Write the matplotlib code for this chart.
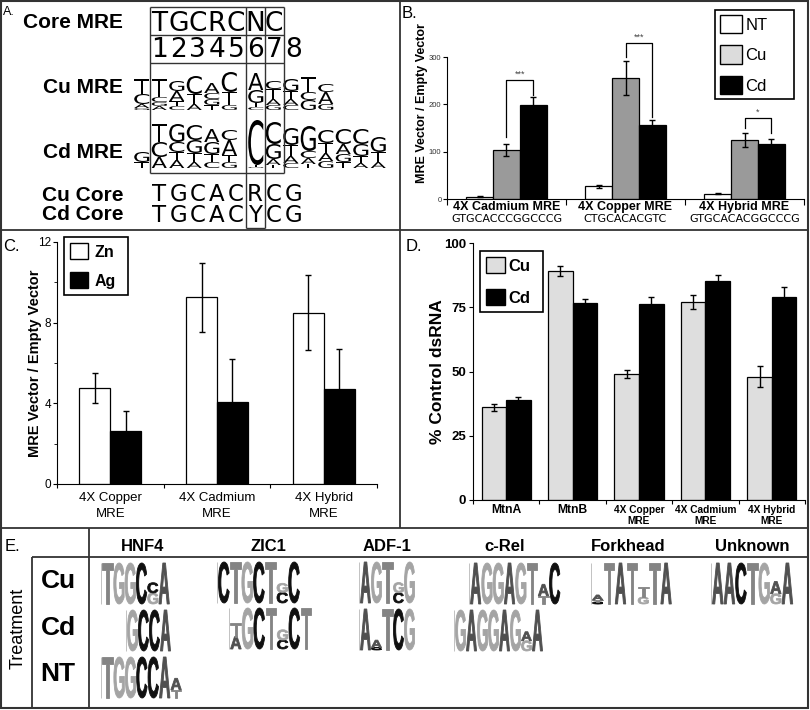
import matplotlib
matplotlib.use("Agg")
import matplotlib.pyplot as plt
from matplotlib.patches import Patch, PathPatch, Rectangle
from matplotlib.textpath import TextPath
from matplotlib.font_manager import FontProperties
from matplotlib.transforms import Affine2D
import numpy as np

plt.rcParams['font.family'] = ['Liberation Sans', 'DejaVu Sans']

# ---------------- data ----------------
# A: MRE consensus and logos (letter, height in px), listed top -> bottom
core_mre = "TGCRCNC"
core_pos = "12345678"
cu_core = "TGCACRCG"
cd_core = "TGCACYCG"
cu_mre_logo = [
    [('T', 15), ('C', 10), ('A', 4), ('G', 2)],
    [('T', 18), ('C', 5), ('G', 4), ('A', 4)],
    [('G', 10), ('A', 10), ('T', 5), ('C', 4)],
    [('C', 18), ('T', 10), ('A', 6)],
    [('A', 10), ('C', 6), ('G', 6), ('T', 5)],
    [('C', 20), ('T', 13), ('G', 5)],
    [('A', 17), ('G', 13), ('T', 4), ('C', 3)],
    [('C', 8), ('T', 10), ('A', 6), ('G', 5)],
    [('G', 12), ('T', 8), ('A', 6), ('C', 5)],
    [('T', 15), ('C', 8), ('G', 10)],
    [('C', 8), ('A', 12), ('G', 6)],
]
cd_mre_logo = [
    [('G', 10), ('T', 6)],
    [('T', 18), ('C', 15), ('A', 11)],
    [('G', 18), ('C', 10), ('T', 8), ('A', 8)],
    [('C', 15), ('G', 13), ('T', 9), ('A', 6)],
    [('A', 13), ('G', 12), ('T', 8), ('C', 6)],
    [('C', 10), ('A', 15), ('T', 7), ('G', 6)],
    [('C', 45), ('T', 2), ('G', 1)],
    [('C', 22), ('G', 15), ('A', 6), ('T', 3)],
    [('G', 17), ('T', 11), ('A', 7), ('C', 5)],
    [('G', 25), ('C', 7), ('A', 6), ('T', 4)],
    [('C', 13), ('T', 10), ('A', 8), ('G', 7)],
    [('C', 15), ('A', 10), ('G', 8), ('T', 6)],
    [('C', 15), ('G', 12), ('T', 7), ('A', 5)],
    [('G', 15), ('T', 10), ('A', 6)],
]

# B: reporter activity
b_groups = ['4X Cadmium MRE', '4X Copper MRE', '4X Hybrid MRE']
b_seqs = ['GTGCACCCGGCCCG', 'CTGCACACGTC', 'GTGCACACGGCCCG']
b_nt = [5, 27, 11]
b_nt_err = [1, 3, 1]
b_cu = [103, 256, 124]
b_cu_err = [13, 36, 15]
b_cd = [198, 156, 117]
b_cd_err = [17, 10, 10]
b_sig = ['***', '***', '*']
b_brk_top = [252, 330, 172]
b_brk_cu = [131, 300, 149]
b_brk_cd = [219, 173, 139]

# C: Zn / Ag
c_groups = ['4X Copper\nMRE', '4X Cadmium\nMRE', '4X Hybrid\nMRE']
c_zn = [4.75, 9.25, 8.5]
c_zn_err = [0.75, 1.7, 1.85]
c_ag = [2.65, 4.05, 4.7]
c_ag_err = [0.95, 2.15, 2.0]

# D: RNAi
d_groups = ['MtnA', 'MtnB', '4X Copper\nMRE', '4X Cadmium\nMRE', '4X Hybrid\nMRE']
d_cu = [36, 89, 49, 77, 48]
d_cu_err = [1.2, 2.0, 1.7, 2.8, 4.0]
d_cd = [38.8, 76.8, 76.3, 85.1, 78.8]
d_cd_err = [1.4, 1.3, 2.5, 2.6, 4.1]

# E: motif logos (letter, fraction of full height), top -> bottom
e_factors = ['HNF4', 'ZIC1', 'ADF-1', 'c-Rel', 'Forkhead', 'Unknown']
e_treat = ['Cu', 'Cd', 'NT']
hnf4_cu = [[('T', 1)], [('G', 1)], [('G', 1)], [('C', 1)], [('C', .25), ('G', .27)], [('A', 1)]]
hnf4_cd = [[('G', 1)], [('C', 1)], [('C', 1)], [('A', 1)]]
hnf4_nt = [[('T', 1)], [('G', 1)], [('G', 1)], [('C', 1)], [('C', 1)], [('A', 1)], [('A', .28), ('T', .2)]]
zic1_cu = [[('C', 1)], [('T', 1)], [('G', 1)], [('C', 1)], [('T', 1)], [('G', .22), ('C', .26)], [('C', 1)]]
zic1_cd = [[('T', .33), ('A', .3)], [('G', 1)], [('C', 1)], [('T', 1)], [('G', .25), ('C', .22)], [('C', 1)], [('T', 1)]]
adf1_cu = [[('A', 1)], [('G', 1)], [('T', 1)], [('G', .25), ('C', .25)], [('G', 1)]]
adf1_cd = [[('A', 1)], [('A', .18), ('C', .06)], [('T', 1)], [('C', 1)], [('G', 1)]]
crel_cu = [[('A', 1)], [('G', 1)], [('G', 1)], [('A', 1)], [('G', 1)], [('T', 1)], [('A', .28), ('T', .2)], [('C', 1)]]
crel_cd = [[('G', 1)], [('A', 1)], [('G', 1)], [('G', 1)], [('A', 1)], [('G', 1)], [('A', .22), ('G', .25)], [('A', 1)]]
fork_cu = [[('A', .12), ('T', .05), ('C', .05)], [('T', 1)], [('A', 1)], [('T', 1)], [('T', .25), ('G', .17)], [('T', 1)], [('A', 1)]]
unk_cu = [[('A', 1)], [('A', 1)], [('C', 1)], [('T', 1)], [('G', 1)], [('A', .3), ('G', .25)], [('A', 1)]]

# ---------------- layout helpers ----------------
W, H = 810, 710
fig = plt.figure(figsize=(W / 100, H / 100), dpi=100)


def rect(l, t, r, b):
    return [l / W, 1 - b / H, (r - l) / W, (b - t) / H]


ov = fig.add_axes([0, 0, 1, 1])
ov.set_xlim(0, W)
ov.set_ylim(H, 0)
ov.axis('off')


def line(xs, ys, lw=1.0, c='#333333'):
    ov.plot(xs, ys, color=c, lw=lw, solid_capstyle='butt')


def letter(ch, x, base, w, h, color, prop, stroke=0):
    tp = TextPath((0, 0), ch, size=1, prop=prop)
    bb = tp.get_extents()
    tr = Affine2D().translate(-bb.x0, -bb.y0).scale(w / bb.width, -h / bb.height).translate(x, base)
    ov.add_patch(PathPatch(tr.transform_path(tp), fc=color, ec=color if stroke else 'none', lw=stroke))


def logo(cols, x0, base, pitch, unit, prop, colors, frac=0.9, gap_after=None, gap=0, stroke=0):
    for i, col in enumerate(cols):
        x = x0 + i * pitch + (gap if gap_after is not None and i > gap_after else 0)
        y = base
        for ch, hgt in reversed(col):
            h = hgt * unit
            letter(ch, x + pitch * (1 - frac) / 2, y, pitch * frac, h, colors[ch], prop, stroke)
            y -= h


# ---------------- frames ----------------
ov.add_patch(Rectangle((1, 1), 807, 707, fill=False, ec='#333333', lw=1.5))
line([400, 400], [1, 528], lw=1.3)
line([1, 808], [230, 230], lw=1.3)
line([1, 808], [528, 528], lw=1.3)
line([89, 89], [528, 708], lw=1.3)
line([32, 32], [557, 708], lw=1.3)
line([32, 808], [557, 557], lw=1.3)

# ---------------- panel A ----------------
ov.text(3, 15, 'A.', fontsize=9)
col_w = 19.1
gx = 150
line([gx, gx + 7 * col_w], [7, 7])
line([gx, gx + 7 * col_w], [35, 35])
line([gx, gx + 7 * col_w], [63, 63])
line([gx, gx + 7 * col_w], [173, 173])
line([gx, gx], [7, 173])
line([gx + 7 * col_w, gx + 7 * col_w], [7, 173])
line([gx + 5 * col_w, gx + 5 * col_w], [7, 228])
line([gx + 6 * col_w, gx + 6 * col_w], [7, 228])
line([gx + 5 * col_w, gx + 6 * col_w], [228, 228])

for i, ch in enumerate(core_mre):
    ov.text(gx + col_w * (i + 0.5), 31, ch, fontsize=19, family='DejaVu Sans', ha='center', va='baseline')
for i, ch in enumerate(core_pos):
    ov.text(gx + col_w * (i + 0.5), 57, ch, fontsize=19, family='DejaVu Sans', ha='center', va='baseline')
for i, ch in enumerate(cu_core):
    ov.text(gx + col_w * (i + 0.5), 201, ch, fontsize=16.5, family='DejaVu Sans', ha='center', va='baseline')
for i, ch in enumerate(cd_core):
    ov.text(gx + col_w * (i + 0.5), 222, ch, fontsize=16.5, family='DejaVu Sans', ha='center', va='baseline')

for lab, yb in [('Core MRE', 28), ('Cu MRE', 93), ('Cd MRE', 158), ('Cu Core', 201), ('Cd Core', 220)]:
    ov.text(123, yb, lab, fontsize=15, fontweight='bold', ha='right', va='baseline')

a_prop = FontProperties(family='DejaVu Sans')
a_cols = {k: 'black' for k in 'ACGT'}
logo(cu_mre_logo, 133, 110, 17.5, 1.0, a_prop, a_cols, frac=0.86, gap_after=5, gap=9)
logo(cd_mre_logo, 133, 168, 17.5, 1.0, a_prop, a_cols, frac=0.86, gap_after=5, gap=9)

# ---------------- panel B ----------------
ax = fig.add_axes(rect(447, 57, 804, 199))
xb = np.arange(3) + 0.5
bw = 0.225
ek = dict(ecolor='black', elinewidth=1, capsize=2.5, capthick=1)
ax.bar(xb - bw, b_nt, bw, yerr=b_nt_err, color='white', edgecolor='black', lw=0.9, error_kw=ek)
ax.bar(xb, b_cu, bw, yerr=b_cu_err, color='#9a9a9a', edgecolor='black', lw=0.9, error_kw=ek)
ax.bar(xb + bw, b_cd, bw, yerr=b_cd_err, color='black', edgecolor='black', lw=0.9, error_kw=ek)
for i in range(3):
    x1, x2 = xb[i], xb[i] + bw
    ax.plot([x1, x1, x2, x2], [b_brk_cu[i], b_brk_top[i], b_brk_top[i], b_brk_cd[i]],
            color='black', lw=0.9, clip_on=False)
    ax.text((x1 + x2) / 2, b_brk_top[i] + 2, b_sig[i], ha='center', va='bottom',
            fontsize=6.5, color='#444444', clip_on=False)
ax.set_xlim(0, 3)
ax.set_ylim(0, 300)
ax.set_xticks([0, 1, 2, 3])
ax.set_xticklabels([])
ax.set_yticks([0, 100, 200, 300])
ax.tick_params(axis='y', labelsize=5.5, length=3, pad=1, labelcolor='#333333')
ax.tick_params(axis='x', length=4)
for s in ['top', 'right']:
    ax.spines[s].set_visible(False)
ax.set_facecolor('none')
for i in range(3):
    ax.annotate(b_groups[i], xy=(xb[i], 0), xycoords=('data', 'axes fraction'), xytext=(0, -1.5),
                textcoords='offset points', ha='center', va='top', fontsize=9, fontweight='bold')
    ax.annotate(b_seqs[i], xy=(xb[i], 0), xycoords=('data', 'axes fraction'), xytext=(0, -10.5),
                textcoords='offset points', ha='center', va='top', fontsize=8, family='DejaVu Sans')
ax.set_ylabel('MRE Vector / Empty Vector', fontsize=9, fontweight='bold')
ax.yaxis.set_label_coords(-0.053, 0.676)
hb = [Patch(fc='white', ec='black'), Patch(fc='#dcdcdc', ec='black'), Patch(fc='black', ec='black')]
lg = ax.legend(hb, ['NT', 'Cu', 'Cd'], loc='upper left', mode='expand',
               bbox_to_anchor=(715 / W, 1 - 107 / H, 79 / W, 97 / H), bbox_transform=fig.transFigure,
               borderaxespad=0, fontsize=12, handlelength=1.32, handleheight=1.32, labelspacing=0.72,
               borderpad=0.3, handletextpad=0.2, fancybox=False, framealpha=1)
lg.get_frame().set_edgecolor('black')
lg.get_frame().set_linewidth(1.2)

# ---------------- panel C ----------------
ax = fig.add_axes(rect(57, 242, 377, 484))
xc = np.arange(3) + 0.5
cw = 0.29
ax.bar(xc - cw / 2, c_zn, cw, yerr=c_zn_err, color='white', edgecolor='black', lw=0.9, error_kw=ek)
ax.bar(xc + cw / 2, c_ag, cw, yerr=c_ag_err, color='black', edgecolor='black', lw=0.9, error_kw=ek)
ax.set_xlim(0, 3)
ax.set_ylim(0, 12)
ax.set_xticks([0, 1, 2, 3])
ax.set_xticklabels([])
ax.set_yticks([0, 4, 8, 12])
ax.set_yticks([2, 6, 10], minor=True)
ax.tick_params(axis='y', labelsize=8.5, length=3, pad=1)
ax.tick_params(axis='y', which='minor', length=2)
ax.tick_params(axis='x', length=3)
for s in ['top', 'right']:
    ax.spines[s].set_visible(False)
ax.set_facecolor('none')
for i in range(3):
    ax.annotate(c_groups[i], xy=(xc[i], 0), xycoords=('data', 'axes fraction'), xytext=(0, -5.5),
                textcoords='offset points', ha='center', va='top', fontsize=9.5, linespacing=1.45)
ax.set_ylabel('MRE Vector / Empty Vector', fontsize=10.5, fontweight='bold')
ax.yaxis.set_label_coords(-0.047, 0.5)
hc = [Patch(fc='white', ec='black'), Patch(fc='black', ec='black')]
lg = ax.legend(hc, ['Zn', 'Ag'], loc='upper left', mode='expand',
               bbox_to_anchor=(64 / W, 1 - 297 / H, 64 / W, 60 / H), bbox_transform=fig.transFigure,
               borderaxespad=0, prop={'size': 11.5, 'weight': 'bold'}, handlelength=1.12,
               handleheight=1.12, labelspacing=0.8, borderpad=0.4, handletextpad=0.37,
               fancybox=False, framealpha=1)
lg.get_frame().set_edgecolor('black')
lg.get_frame().set_linewidth(1.2)

# ---------------- panel D ----------------
ax = fig.add_axes(rect(473, 243, 805, 500))
xd = np.arange(5) + 0.5
dw = 0.37
ax.bar(xd - dw / 2, d_cu, dw, yerr=d_cu_err, color='#dedede', edgecolor='black', lw=0.9, error_kw=ek)
ax.bar(xd + dw / 2, d_cd, dw, yerr=d_cd_err, color='black', edgecolor='black', lw=0.9, error_kw=ek)
ax.set_xlim(0, 5)
ax.set_ylim(0, 100)
ax.set_xticks([0, 1, 2, 3, 4, 5])
ax.set_xticklabels([])
ax.set_yticks([0, 25, 50, 75, 100])
ax.tick_params(axis='y', labelsize=9.5, length=3, pad=2)
for t in ax.get_yticklabels():
    t.set_fontweight('bold')
ax.tick_params(axis='x', length=3)
for s in ['top', 'right']:
    ax.spines[s].set_visible(False)
ax.set_facecolor('none')
for i in range(5):
    small = '\n' in d_groups[i]
    ax.annotate(d_groups[i], xy=(xd[i], 0), xycoords=('data', 'axes fraction'),
                xytext=(0, -3.5 if small else -3), textcoords='offset points', ha='center', va='top',
                fontsize=7.3 if small else 8.7, fontweight='bold', linespacing=1.2)
ax.set_ylabel('% Control dsRNA', fontsize=12.5, fontweight='bold')
ax.yaxis.set_label_coords(-0.084, 0.5)
hd = [Patch(fc='#dedede', ec='black'), Patch(fc='black', ec='black')]
lg = ax.legend(hd, ['Cu', 'Cd'], loc='upper left', mode='expand',
               bbox_to_anchor=(480 / W, 1 - 312 / H, 63 / W, 61 / H), bbox_transform=fig.transFigure,
               borderaxespad=0, prop={'size': 12, 'weight': 'bold'}, handlelength=1.14,
               handleheight=1.14, labelspacing=0.9, borderpad=0.36, handletextpad=0.2,
               fancybox=False, framealpha=1)
lg.get_frame().set_edgecolor('black')
lg.get_frame().set_linewidth(1.2)

# ---------------- panel labels ----------------
ov.text(402, 18, 'B.', fontsize=12)
ov.text(3, 251, 'C.', fontsize=12)
ov.text(406, 251, 'D.', fontsize=12)
ov.text(5, 551, 'E.', fontsize=12)

# ---------------- panel E ----------------
e_head_x = [143, 268, 387, 505, 628, 752]
for name, xh in zip(e_factors, e_head_x):
    ov.text(xh, 551, name, fontsize=12, fontweight='bold', ha='center', va='baseline')
for lab, yb in zip(e_treat, [588, 635, 681]):
    ov.text(58, yb, lab, fontsize=19, fontweight='bold', ha='center', va='baseline')
ov.text(18, 628, 'Treatment', fontsize=13, rotation=90, ha='center', va='center')

e_prop = FontProperties(family='Liberation Sans', weight='bold')
e_cols = {'A': '#505050', 'C': '#101010', 'G': '#a4a4a4', 'T': '#848484'}
e_unit = 41
e_logos = [
    (hnf4_cu, 102, 604, 11.3), (hnf4_cd, 127, 651, 11.0), (hnf4_nt, 102, 698, 11.4),
    (zic1_cu, 218, 603, 11.7), (zic1_cd, 230, 649, 11.7),
    (adf1_cu, 360, 603, 11.0), (adf1_cd, 360, 650, 11.0),
    (crel_cu, 470, 604, 11.3), (crel_cd, 455, 651, 11.0),
    (fork_cu, 592, 604, 11.4), (unk_cu, 712, 604, 11.6),
]
for cols, x0, base, pitch in e_logos:
    line([x0 - 1, x0 - 1], [base, base - e_unit], lw=0.5, c='#aaaaaa')
    logo(cols, x0, base, pitch, e_unit, e_prop, e_cols, frac=0.92, stroke=0.6)

fig.savefig('out.png', dpi=100)
